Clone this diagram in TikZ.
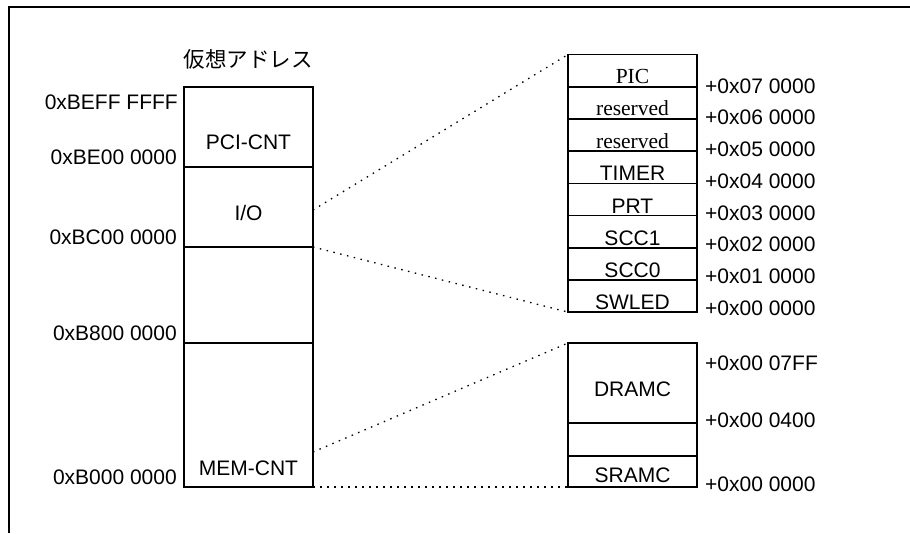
\documentclass[tikz,border=0pt]{standalone}
\usepackage{fontspec}
\usetikzlibrary{calc}
\setmainfont{Liberation Sans}
\newfontfamily\serifrm{Liberation Serif}
\newfontfamily\cjk{Noto Sans CJK JP}
\begin{document}
\begin{tikzpicture}[x=1pt,y=-1pt,
  seg/.style={draw,line width=1.6pt,minimum width=129pt,inner sep=0pt,outer sep=0pt},
  txt/.style={inner sep=0pt,font=\fontsize{21}{24}\selectfont},
  stxt/.style={inner sep=0pt,font=\serifrm\fontsize{21.5}{24}\selectfont},
  addr/.style={txt,anchor=east},
  off/.style={txt,anchor=west},
  thindot/.style={line width=1.3pt,dash pattern=on 1.5pt off 5.5pt},
  thickdot/.style={line width=1.9pt,dash pattern=on 2.2pt off 4.8pt}]
\useasboundingbox (0,0) rectangle (910,533);
% frame
\draw[line width=2.2pt] (9,533) -- (9,7) -- (910,7);
% title
\node[inner sep=0pt,font=\cjk\fontsize{21.5}{24}\selectfont] (title) at (248,59) {仮想アドレス};
% left column
\node[seg,minimum height=80pt] (pci) at (248.5,127) {};
\node[seg,minimum height=80pt] (io) at (248.5,207) {};
\node[seg,minimum height=96pt] (blank) at (248.5,295) {};
\node[seg,minimum height=144pt] (mem) at (248.5,415) {};
\node[txt] (tpci) at (248.5,142) {PCI-CNT};
\node[txt] (tio) at (248.5,213) {I/O};
\node[txt] (tmem) at (248.5,468) {MEM-CNT};
\node[addr] (a1) at (178,102) {0xBEFF FFFF};
\node[addr] (a2) at (177,157) {0xBE00 0000};
\node[addr] (a3) at (177,237) {0xBC00 0000};
\node[addr] (a4) at (177,333) {0xB800 0000};
\node[addr] (a5) at (177,477) {0xB000 0000};
% right top column
\foreach \n/\i in {pic/0,resa/1,resb/2,timer/3,prt/4,sccb/5,scca/6,swled/7}{
  \node[seg,minimum height=32.2pt] (\n) at (632.5,{70.6+32.2*\i}) {};
}
\node[stxt,anchor=base] (tpic) at ($(pic.south)+(0,-3)$) {PIC};
\node[stxt,anchor=base] (tresa) at ($(resa.south)+(0,-3)$) {reserved};
\node[stxt,anchor=base] (tresb) at ($(resb.south)+(0,-3)$) {reserved};
\node[txt,anchor=base] (ttimer) at ($(timer.south)+(0,-2.5)$) {TIMER};
\node[txt,anchor=base] (tprt) at ($(prt.south)+(0,-2.5)$) {PRT};
\node[txt,anchor=base] (tsccb) at ($(sccb.south)+(0,-2.5)$) {SCC1};
\node[txt,anchor=base] (tscca) at ($(scca.south)+(0,-2.5)$) {SCC0};
\node[txt,anchor=base] (tswled) at ($(swled.south)+(0,-2.5)$) {SWLED};
\foreach \t/\i in {07/0,06/1,05/2,04/3,03/4,02/5,01/6,00/7}{
  \node[off] (o\i) at (705,{86+31.7*\i}) {+0x\t{} 0000};
}
% right bottom column
\node[seg,minimum height=80pt] (dram) at (632.5,383) {};
\node[seg,minimum height=33pt] (gap) at (632.5,439.5) {};
\node[seg,minimum height=31pt] (sram) at (632.5,471.5) {};
\node[txt] (tdram) at (632.5,389) {DRAMC};
\node[txt] (tsram) at (632.5,475) {SRAMC};
\node[off] (b1) at (705,363) {+0x00 07FF};
\node[off] (b2) at (705,420) {+0x00 0400};
\node[off] (b3) at (705,484) {+0x00 0000};
% connectors
\coordinate (iop) at ($(io.east)+(0,3)$);
\coordinate (memp) at ($(mem.south east)+(0,-35)$);
\draw[thindot] (iop) -- (pic.north west);
\draw[thindot] (io.south east) -- (swled.south west);
\draw[thindot] (memp) -- (dram.north west);
\draw[thickdot] (mem.south east) -- (sram.south west);
\end{tikzpicture}
\end{document}
